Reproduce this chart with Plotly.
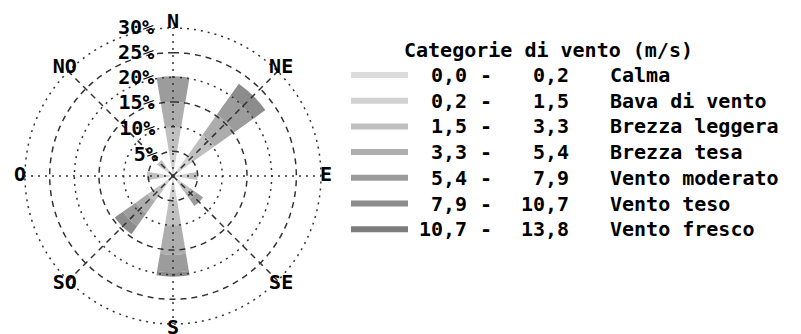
import numpy as np
import plotly.graph_objects as go

# direzioni e categorie di vento
direzioni = ["N", "NE", "E", "SE", "S", "SO", "O", "NO"]
angoli = [0, 45, 90, 135, 180, 225, 270, 315]
limiti = [0.0, 0.2, 1.5, 3.3, 5.4, 7.9, 10.7, 13.8]
nomi = ["Calma", "Bava di vento", "Brezza leggera", "Brezza tesa",
        "Vento moderato", "Vento teso", "Vento fresco"]
colori = ["#dcdcdc", "#d2d2d2", "#c0c0c0", "#adadad",
          "#9c9c9c", "#8c8c8c", "#7c7c7c"]

# frequenze (%) per categoria, nell'ordine di `direzioni`
calma = [0.3, 0.3, 0.3, 0.3, 0.3, 0.3, 0.3, 0.3]
bava = [4.7, 5.0, 2.5, 2.0, 4.7, 3.0, 2.5, 2.0]
brezza_leggera = [5.0, 5.0, 2.2, 2.0, 5.0, 3.0, 2.5, 1.7]
brezza_tesa = [5.0, 5.0, 0.0, 1.5, 6.0, 3.0, 0.0, 0.0]
vento_moderato = [5.2, 4.7, 0.0, 1.7, 3.5, 3.2, 0.0, 0.0]
vento_teso = [0.0, 3.0, 0.0, 0.0, 0.9, 2.0, 0.0, 0.0]
vento_fresco = [0.0, 0.0, 0.0, 0.0, 0.0, 0.0, 0.0, 0.0]
serie = [calma, bava, brezza_leggera, brezza_tesa,
         vento_moderato, vento_teso, vento_fresco]

anelli = [5, 10, 15, 20, 25, 30]
r_max = 31.3          # un po' oltre l'ultimo anello, per le etichette
r_lab = 31.0
font_fam = "DejaVu Sans Mono"
fsize = 20
W, H = 801, 334
griglia = "#333333"
punti = "2px,5px"
tratti = "6px,5px"
testo = dict(family=font_fam, size=fsize, weight="bold", color="black")

fig = go.Figure()
for k, vals in enumerate(serie):
    fig.add_trace(go.Barpolar(
        r=vals, theta=angoli, width=19,
        marker=dict(color=colori[k], line=dict(width=0)),
        name=nomi[k], showlegend=False, hoverinfo="skip"))

# griglia sopra le barre
th = np.linspace(0, 360, 361)
for i, a in enumerate(anelli):
    fig.add_trace(go.Scatterpolar(
        r=[a] * len(th), theta=th, mode="lines",
        line=dict(color=griglia, width=1.5, dash=tratti if i % 2 == 0 else punti),
        showlegend=False, hoverinfo="skip"))
for i, a in enumerate(angoli):
    fig.add_trace(go.Scatterpolar(
        r=[0, anelli[-1]], theta=[a, a], mode="lines",
        line=dict(color=griglia, width=1.5, dash=punti if i % 2 == 0 else tratti),
        showlegend=False, hoverinfo="skip"))

# etichette degli anelli, a sinistra del raggio N
px_unit = 148 / anelli[-1]
scarto = [-np.degrees(np.arctan2(19, a * px_unit)) for a in anelli]
fig.add_trace(go.Scatterpolar(
    r=anelli, theta=scarto, mode="text",
    text=[f"{a}%" for a in anelli], textposition="middle left", textfont=testo,
    cliponaxis=False, showlegend=False, hoverinfo="skip"))

# etichette delle direzioni appena fuori dal cerchio esterno
fig.add_trace(go.Scatterpolar(
    r=[r_lab] * len(angoli), theta=angoli, mode="text",
    text=direzioni, textposition="middle center", textfont=testo,
    cliponaxis=False, showlegend=False, hoverinfo="skip"))

cx, cy = 165, 168
rad = 148 * r_max / anelli[-1]
fig.update_layout(
    width=W, height=H,
    margin=dict(l=0, r=0, t=0, b=0),
    paper_bgcolor="white",
    font=dict(family=font_fam, size=fsize, color="black", weight="bold"),
    polar=dict(
        domain=dict(x=[(cx - rad) / W, (cx + rad) / W],
                    y=[(H - cy - rad) / H, (H - cy + rad) / H]),
        bgcolor="rgba(0,0,0,0)",
        barmode="stack",
        angularaxis=dict(direction="clockwise", rotation=90,
                         showticklabels=False, showgrid=False,
                         showline=False, ticks=""),
        radialaxis=dict(range=[0, r_max], showticklabels=False,
                        showgrid=False, showline=False, ticks=""),
    ),
)

# legenda disegnata a mano
def fmt(v):
    return f"{v:.1f}".replace(".", ",")

fig.add_annotation(x=394 / W, y=(H - 42) / H, xref="paper", yref="paper",
                   xanchor="left", yanchor="middle", showarrow=False,
                   text="Categorie di vento (m/s)")
for k in range(len(nomi)):
    yc = (H - (67 + 25.7 * k)) / H
    fig.add_shape(type="line", xref="paper", yref="paper",
                  x0=343 / W, x1=400 / W, y0=yc, y1=yc,
                  line=dict(color=colori[k], width=6))
    fig.add_annotation(x=461 / W, y=yc, xref="paper", yref="paper",
                       xanchor="right", yanchor="middle", showarrow=False,
                       text=fmt(limiti[k]))
    fig.add_annotation(x=478 / W, y=yc, xref="paper", yref="paper",
                       xanchor="center", yanchor="middle", showarrow=False,
                       text="-")
    fig.add_annotation(x=563 / W, y=yc, xref="paper", yref="paper",
                       xanchor="right", yanchor="middle", showarrow=False,
                       text=fmt(limiti[k + 1]))
    fig.add_annotation(x=600 / W, y=yc, xref="paper", yref="paper",
                       xanchor="left", yanchor="middle", showarrow=False,
                       text=nomi[k])

fig.write_html("out.html")
